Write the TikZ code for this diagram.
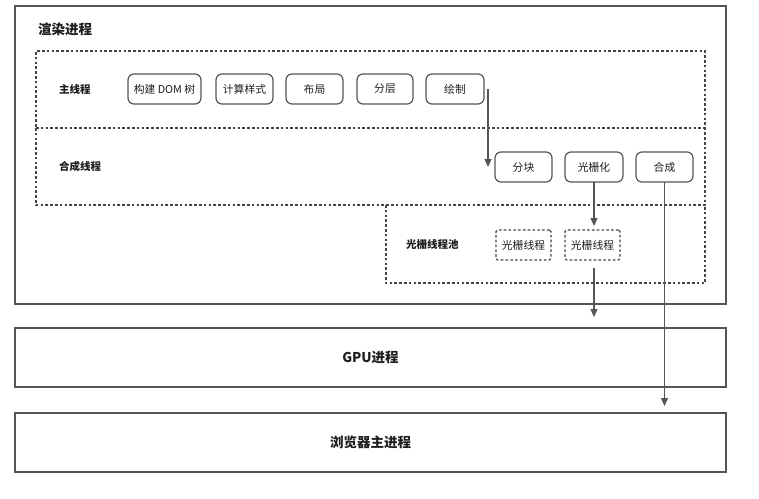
\documentclass[tikz,border=0pt]{standalone}
\usepackage{fontspec}
\setmainfont{Noto Sans CJK SC}
\usetikzlibrary{arrows.meta,calc}
\definecolor{linegray}{HTML}{555555}
\definecolor{dashgray}{HTML}{444444}
\definecolor{txt}{HTML}{1E1E1E}
\tikzset{
  outerbox/.style={draw=linegray, line width=1.5pt, inner sep=0pt, outer sep=0pt},
  dashline/.style={draw=dashgray, line width=1.1pt, dash pattern=on 2.6pt off 2.2pt},
  dashbox/.style={dashline, inner sep=0pt, outer sep=0pt},
  region/.style={inner sep=0pt, outer sep=0pt},
  stepbox/.style={draw=linegray, line width=1.2pt, rounded corners=6pt, minimum height=30pt, inner sep=0pt, outer sep=0pt, font=\fontsize{10.8pt}{12pt}\selectfont, text=txt},
  workerbox/.style={dashbox, rounded corners=1.5pt, minimum height=30pt, minimum width=55pt, font=\fontsize{10.8pt}{12pt}\selectfont, text=txt},
  grouplabel/.style={anchor=west, inner sep=0pt, font=\fontsize{10.5pt}{12pt}\selectfont\bfseries, text=txt},
  biglabel/.style={inner sep=0pt, font=\fontsize{13.5pt}{16pt}\selectfont\bfseries, text=txt},
  arr/.style={draw=linegray, line width=1.2pt, -{Triangle[length=8pt,width=7pt]}}
}
\begin{document}
\begin{tikzpicture}[x=1pt,y=-1pt]
\useasboundingbox[fill=white] (0,0) rectangle (759,498);
% containers
\node[outerbox, minimum width=711pt, minimum height=298pt] (render) at (370.5,155) {};
\node[dashbox, minimum width=669pt, minimum height=77pt] (mainth) at (370.5,89.5) {};
\node[region, minimum width=669pt, minimum height=77pt] (compth) at (370.5,166.5) {};
\draw[dashline] (compth.north west) -- (compth.south west) -- (compth.south east) -- (compth.north east);
\node[region, minimum width=319pt, minimum height=78pt] (pool) at (545.5,244) {};
\draw[dashline] (pool.north west) -- (pool.south west) -- (pool.south east) -- (pool.north east);
\node[outerbox, minimum width=711pt, minimum height=59pt] (gpu) at (370.5,357.5) {};
\node[outerbox, minimum width=711pt, minimum height=59pt] (browser) at (370.5,442.5) {};
% labels
\node[biglabel, anchor=west] (renderlbl) at (38,29) {渲染进程};
\node[grouplabel] (mainlbl) at (59,89) {主线程};
\node[grouplabel] (complbl) at (59,166) {合成线程};
\node[grouplabel] (poollbl) at (406,245) {光栅线程池};
\node[biglabel] (gpulbl) at (gpu.center) {GPU进程};
\node[biglabel] (browserlbl) at (browser.center) {浏览器主进程};
% main thread steps
\node[stepbox, minimum width=73pt] (dom) at (164.5,89) {构建 DOM 树};
\node[stepbox, minimum width=57pt] (style) at (244.5,89) {计算样式};
\node[stepbox, minimum width=57pt] (layout) at (314.5,89) {布局};
\node[stepbox, minimum width=56pt] (layer) at (385,89) {分层};
\node[stepbox, minimum width=58pt] (paint) at (455,89) {绘制};
% compositor steps
\node[stepbox, minimum width=57pt] (tile) at (523.5,167) {分块};
\node[stepbox, minimum width=58pt] (raster) at (594,167) {光栅化};
\node[stepbox, minimum width=57pt] (composite) at (664.5,167) {合成};
% raster workers
\node[workerbox] (worker1) at (523.5,245) {光栅线程};
\node[workerbox] (worker2) at (592.5,245) {光栅线程};
% arrows
\coordinate (paintout) at ($(paint.east)+(4,0)$);
\draw[arr] (paintout) -- (paintout |- tile.west);
\draw[arr, shorten >=4pt] (raster.south) -- (raster.south |- worker2.north);
\draw[arr, shorten <=8pt, shorten >=11pt] (raster.south |- worker2.south) -- (raster.south |- gpu.north);
\draw[arr, shorten >=7pt] (composite.south) -- (composite.south |- browser.north);
\end{tikzpicture}
\end{document}
